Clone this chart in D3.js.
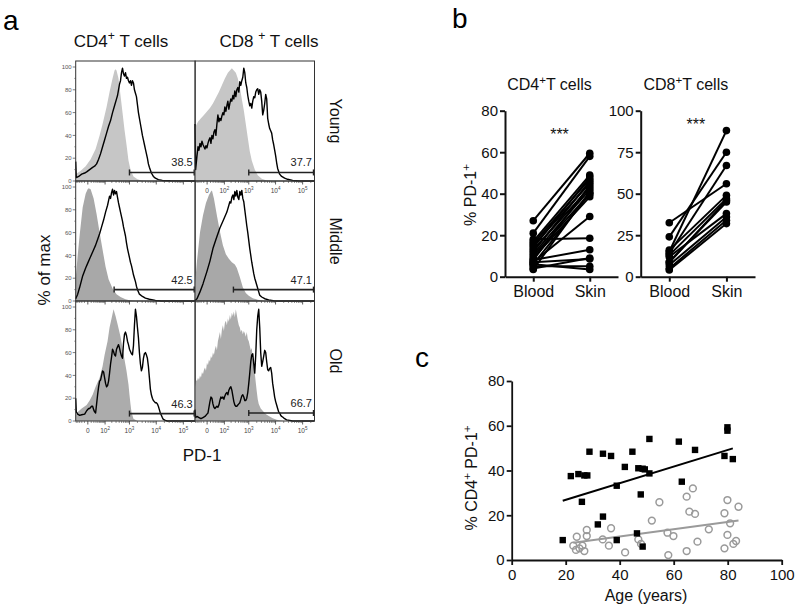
<!DOCTYPE html>
<html><head><meta charset="utf-8">
<script src="https://cdn.jsdelivr.net/npm/d3@7"></script>
<style>body{margin:0;background:#fff}svg{display:block;font-family:"Liberation Sans",Arial,sans-serif}</style>
</head><body><svg id="c" width="800" height="616"></svg>
<script>
// ---------------- DATA ----------------
// Panel a: histograms, x in display channel (0-120), y in % of max
const rowNames = ["Young", "Middle", "Old"];
const gateStart = [[1000, 1000], [250, 250], [1000, 1000]];
const gateLevel = [[7.5, 7.5], [10, 10], [6.5, 7]];
const gateLabels = [["38.5", "37.7"], ["42.5", "47.1"], ["46.3", "66.7"]];
const isoFill = ["#c6c6c6", "#a8a8a8", "#acacac"];
const histYTicks = [0, 20, 40, 60, 80, 100];
const histXTicks = [0, 100, 1000, 10000, 100000];
const histXTickLabels = [["0", ""], ["10", "2"], ["10", "3"], ["10", "4"], ["10", "5"]];

const youngCD4Iso = [[0,6],[5,9],[10,13],[15,19],[20,28],[24,40],[27,50],[31,65],[34,78],[37,90],[39,97],[40,98],[41,97],[43,90],[45,75],[47,60],[49,45],[51,32],[53,18],[55,10],[58,4],[62,1.5],[67,0.3],[72,0],[120,0]];
const youngCD4PD1 = [[0,17],[0.6,3],[3,4],[6,6],[9,7],[11,8],[14,10],[17,12],[19,13],[21,15],[23,19],[25,24],[27,30],[29,36],[31,42],[33,48],[35,53],[37,60],[39,66],[41,72],[42,75],[43,80],[44,85],[45,88],[46,95],[47,99],[48,94],[49,92],[50,95],[51,90],[52,91],[53,88],[54,86],[55,88],[56,84],[57,88],[58,86],[59,80],[60,77],[61,74],[62,67],[63,60],[64,55],[65,50],[66,45],[67,40],[68,36],[69,32],[70,28],[71,24],[72,20],[73,15],[74,12],[76,7],[78,4],[80,2.5],[83,1.2],[87,0.5],[95,0.2],[120,0]];
const youngCD8Iso = [[0,47],[3,52],[6,55],[9,58],[12,61],[15,64],[18,68],[21,73],[24,78],[27,84],[30,90],[33,95],[35,97],[37,99],[39,97],[41,95],[43,90],[45,82],[47,72],[49,62],[51,50],[53,38],[55,26],[57,18],[60,10],[63,5],[67,2],[72,0.5],[78,0],[120,0]];
const youngCD8PD1 = [[0,50],[0.6,10],[2,22],[3,30],[4,27],[5,33],[6,30],[7,35],[8,32],[9,30],[10,28],[11,31],[12,29],[13,33],[14,36],[15,38],[16,33],[17,40],[18,37],[19,43],[20,45],[21,40],[22,50],[23,58],[24,52],[25,55],[26,53],[27,57],[28,60],[29,58],[30,65],[31,61],[32,66],[33,70],[34,63],[35,68],[36,72],[37,70],[38,75],[39,72],[40,79],[41,74],[42,80],[43,82],[44,78],[45,87],[46,84],[47,88],[48,91],[49,99],[50,95],[51,86],[52,82],[53,75],[54,70],[55,66],[56,68],[57,64],[58,70],[59,74],[60,73],[61,78],[62,80],[63,81],[64,76],[65,80],[66,78],[67,70],[68,58],[69,62],[70,68],[71,76],[72,72],[73,55],[74,50],[75,46],[76,44],[77,42],[78,36],[79,32],[80,27],[81,22],[82,16],[83,11],[85,6],[87,4],[90,2.5],[93,1.5],[98,0.5],[105,0],[120,0]];
const middleCD4Iso = [[0,20],[2,40],[4,58],[7,82],[10,94],[12,98],[13,99],[15,98],[18,90],[21,76],[24,60],[27,45],[30,30],[33,19],[37,11],[41,6],[45,3.5],[50,1.5],[55,0.5],[60,0],[120,0]];
const middleCD4PD1 = [[0,2],[2,6],[4,12],[7,22],[10,29],[12,33],[14,37],[16,41],[18,45],[20,49],[22,54],[24,59],[26,65],[28,71],[30,78],[32,84],[33,88],[34,92],[35,90],[36,95],[37,98],[38,93],[39,97],[40,94],[41,96],[42,91],[43,86],[44,82],[45,78],[46,74],[47,70],[48,65],[49,61],[50,57],[51,51],[52,46],[53,42],[54,38],[55,34],[56,31],[57,27],[58,23],[59,20],[60,17],[61,13],[62,10],[64,6],[67,4],[70,2.5],[74,1.5],[80,0.5],[86,0],[120,0]];
const middleCD8Iso = [[0,15],[2,35],[5,60],[8,75],[11,86],[14,93],[16,96],[17,97],[19,90],[22,75],[25,61],[28,49],[31,41],[34,37],[37,34],[40,32],[42,29],[45,21],[48,12],[51,7],[54,4.5],[58,2.5],[63,1],[70,0],[120,0]];
const middleCD8PD1 = [[0,0.5],[2,2],[5,8],[8,15],[12,26],[15,35],[18,46],[21,54],[25,64],[28,70],[32,78],[34,84],[35,87],[36,86],[37,91],[38,93],[39,89],[40,96],[41,92],[42,97],[43,91],[44,89],[45,96],[46,93],[47,97],[48,90],[49,87],[50,80],[51,73],[52,66],[53,60],[54,53],[55,46],[56,40],[57,34],[58,29],[59,24],[60,20],[62,14],[64,8],[65,5],[67,3.5],[70,2],[74,1],[80,0],[120,0]];
const oldCD4Iso = [[0,5],[2,8],[6,11],[11,14],[14,18],[17,23],[20,30],[24,38],[27,48],[29,58],[32,70],[34,82],[36,90],[38,98],[40,92],[42,85],[45,74],[47,64],[49,54],[51,44],[53,32],[54,23],[55,15],[56,8],[58,2],[62,0],[120,0]];
const oldCD4PD1 = [[0,20],[0.6,8],[2,6],[4,5],[6,5.5],[9,6],[11,9],[13,11],[14,11],[16,13],[17,13],[18,10],[19,8],[20,7],[21,15],[22,23],[23,30],[24,35],[25,36],[26,40],[27,44],[28,43],[29,38],[30,33],[31,30],[32,31],[33,35],[34,42],[35,50],[36,56],[37,63],[38,61],[39,58],[40,57],[41,63],[42,65],[43,67],[44,64],[45,60],[46,57],[47,55],[48,68],[49,76],[50,78],[51,75],[52,70],[53,67],[54,63],[55,61],[56,59],[57,58],[58,66],[59,84],[60,98],[61,92],[62,82],[63,73],[64,60],[65,50],[66,44],[67,47],[68,55],[69,59],[70,60],[71,58],[72,55],[73,48],[74,38],[75,28],[76,23],[77,20],[78,18],[79,17],[80,16],[81,16],[82,15],[83,13],[84,10],[85,7],[86,5],[87,3],[88,1.5],[90,0.5],[92,0],[120,0]];
const oldCD8Iso = [[0,30],[1,36],[2,35],[3,38],[4,36],[5,40],[6,38],[7,43],[8,41],[9,45],[10,47],[11,44],[12,51],[13,49],[14,54],[15,52],[16,57],[17,55],[18,60],[19,58],[20,63],[21,66],[22,62],[23,70],[24,74],[25,78],[26,72],[27,80],[28,84],[29,79],[30,86],[31,88],[32,84],[33,90],[34,87],[35,93],[36,89],[37,95],[38,92],[39,96],[40,91],[41,98],[42,93],[43,88],[44,84],[45,82],[46,78],[47,80],[48,76],[49,79],[50,77],[51,74],[52,78],[53,72],[54,70],[55,66],[56,62],[57,64],[58,55],[59,48],[60,42],[61,34],[62,26],[63,19],[64,15],[66,11],[68,9],[70,7],[72,5.5],[75,4],[78,2.5],[82,1],[86,0.5],[90,0],[120,0]];
const oldCD8PD1 = [[0,10],[0.6,3],[2,4],[4,3],[6,2],[8,3],[10,4],[12,6],[13,7],[14,12],[15,17],[16,21],[17,20],[18,15],[19,12],[20,11],[21,12],[22,13],[23,12],[24,14],[25,18],[26,21],[27,20],[28,21],[29,19],[30,22],[31,24],[32,25],[33,23],[34,27],[35,29],[36,30],[37,27],[38,22],[39,17],[40,14],[41,13],[42,13],[43,14],[44,15],[45,16],[46,19],[47,22],[48,23],[49,21],[50,18],[51,18],[52,20],[53,25],[54,33],[55,42],[56,52],[57,58],[58,59],[59,50],[60,42],[61,58],[62,80],[63,92],[64,98],[65,82],[66,60],[67,48],[68,52],[69,57],[70,62],[71,60],[72,52],[73,45],[74,44],[75,46],[76,47],[77,42],[78,33],[79,27],[80,21],[81,17],[82,14],[83,11],[84,8],[85,7],[86,5],[87,4],[88,3.5],[90,2],[92,1],[95,0.5],[98,0],[120,0]];

// Panel b: paired blood vs skin (% PD-1+)
const pairCategories = ["Blood", "Skin"];
const cd4Blood = [27, 21, 17, 16, 15, 14, 13, 12, 11, 10, 9, 8, 7, 6, 18, 8, 7, 5, 6, 4, 3.5];
const cd4Skin  = [59.5, 58, 49, 47, 45, 48, 43, 46, 42, 40, 38.5, 44, 29, 40, 18.5, 13, 8.5, 5, 3.5, 9, 41];
const cd4Ticks = [0, 20, 40, 60, 80];
const cd8Blood = [15, 24, 14, 32.5, 16, 13, 8.5, 12, 7, 5, 4, 9];
const cd8Skin  = [88, 75, 67, 56, 49, 47, 46, 38, 36, 34, 32, 45];
const cd8Ticks = [0, 25, 50, 75, 100];

// Panel c: age vs % CD4+PD-1+
const skinAge = [18.9,21.9,24.7,26,26.9,28,28.8,31.9,33.8,33.8,36.8,38.9,38.9,41.9,44.7,46.9,47.8,48.5,49.3,46.4,48.5,51,51,61.9,63,67.9,78.8,79.9,79.9,81.9];
const skinPct = [8.9,37.5,38.4,26,37.8,37.8,48.4,15.9,19.4,47.5,46.5,33.2,8.9,41.6,48.4,41,29.3,40.8,40.5,11.9,6,38.7,54.1,52.9,35,49.2,46.5,59.3,57.8,45.1];
const bloodAge = [24.1,22.8,23.8,25.1,26.2,26.9,27.8,27.8,33.7,36,36.8,42,46.9,47.9,51.9,54.7,57.7,58,59.9,64.8,64.8,65.8,67.1,67.9,68.8,73,78.8,78.8,79.9,79.9,80.9,82.1,83.1,84];
const bloodPct = [10.4,6.4,4.5,5.2,6.4,4,13.4,10.7,9.2,6.4,14.2,3.4,9.2,7.2,17.6,25.8,12.2,2.2,10.7,4,28.3,21.6,32,20.6,8.2,13.7,20.9,5.2,26.8,11.2,16.4,7.2,8.5,23.8];
const skinFit = [19.5, 0.371];   // intercept, slope
const bloodFit = [4.0, 0.162];
const ageTicks = [0, 20, 40, 60, 80, 100];
const pctTicks = [0, 20, 40, 60, 80];

// ---------------- DRAW ----------------
const svg = d3.select("#c");
const FONT = '"Liberation Sans",Arial,sans-serif';

function rich(sel, parts, size) {
  const t = sel.append("text").attr("font-size", size).attr("fill", "#111");
  let shifted = false;
  parts.forEach(p => {
    const sp = t.append("tspan").text(p[0]);
    if (p[1]) { sp.attr("font-size", size * 0.72).attr("dy", -size * 0.4); shifted = true; }
    else if (shifted) { sp.attr("dy", size * 0.4); shifted = false; }
  });
  return t;
}

// panel letters
svg.append("text").attr("x", 3).attr("y", 30).attr("font-size", 28).text("a");
svg.append("text").attr("x", 452).attr("y", 28).attr("font-size", 28).text("b");
svg.append("text").attr("x", 415).attr("y", 367).attr("font-size", 28).text("c");

// ---- panel a ----
const colX = [75.7, 195], colW = 119.5, rowY = [61, 181, 301], rowH = 120;
const colTitles = [[["CD4"], ["+", 1], [" T cells"]], [["CD8 "], ["+", 1], [" T cells"]]];
const colTitleX = [121, 269];
colTitles.forEach((parts, i) => {
  rich(svg, parts, 17).attr("x", colTitleX[i]).attr("y", 46.5).attr("text-anchor", "middle");
});

const hists = [[[youngCD4Iso, youngCD4PD1], [youngCD8Iso, youngCD8PD1]],
               [[middleCD4Iso, middleCD4PD1], [middleCD8Iso, middleCD8PD1]],
               [[oldCD4Iso, oldCD4PD1], [oldCD8Iso, oldCD8PD1]]];
const xAx = d3.scaleSymlog().constant(30).domain([-54, 274000]).range([0, colW]);
const ch = d3.scaleLinear().domain([0, 120]).range([0, colW]);
const minorTicks = [];
[-50, -40, -30, -20, -10, 10, 20, 30, 40, 50, 60, 70, 80, 90].forEach(v => minorTicks.push(v));
[100, 1000, 10000, 100000].forEach(d => { for (let k = 2; k <= 9; k++) if (d * k < 274000) minorTicks.push(d * k); });

rowNames.forEach((rn, r) => {
  [0, 1].forEach(c => {
    const g = svg.append("g").attr("transform", `translate(${colX[c]},${rowY[r]})`);
    const y = d3.scaleLinear().domain([0, 100]).range([rowH, rowH - 114]);
    const [iso, pd1] = hists[r][c];
    g.append("path").datum(iso).attr("fill", isoFill[r])
      .attr("d", d3.area().x(d => ch(d[0])).y0(rowH).y1(d => y(d[1])));
    g.append("path").datum(pd1).attr("fill", "none").attr("stroke", "#000").attr("stroke-width", 1.4)
      .attr("stroke-linejoin", "round")
      .attr("d", d3.line().x(d => ch(d[0])).y(d => y(d[1])));
    // gate
    const gx0 = xAx(gateStart[r][c]), gx1 = colW - 1, gy = y(gateLevel[r][c]);
    g.append("line").attr("x1", gx0).attr("x2", gx1).attr("y1", gy).attr("y2", gy).attr("stroke", "#222").attr("stroke-width", 1.6);
    [gx0, gx1].forEach(xx => g.append("line").attr("x1", xx).attr("x2", xx).attr("y1", gy - 3).attr("y2", gy + 3).attr("stroke", "#222").attr("stroke-width", 1.4));
    g.append("text").attr("x", colW - 2.5).attr("y", gy - 6).attr("text-anchor", "end").attr("font-size", 11).attr("fill", "#222").text(gateLabels[r][c]);
    // frame
    g.append("rect").attr("width", colW).attr("height", rowH).attr("fill", "none").attr("stroke", "#333").attr("stroke-width", 1);
    // x ticks
    minorTicks.forEach(v => g.append("line").attr("x1", xAx(v)).attr("x2", xAx(v)).attr("y1", rowH).attr("y2", rowH + 2).attr("stroke", "#444").attr("stroke-width", 0.6));
    histXTicks.forEach(v => g.append("line").attr("x1", xAx(v)).attr("x2", xAx(v)).attr("y1", rowH).attr("y2", rowH + 3.5).attr("stroke", "#333").attr("stroke-width", 0.8));
    if (r === 2 || (r === 0 && c === 1)) {
      histXTicks.forEach((v, i) => {
        const t = g.append("text").attr("x", xAx(v)).attr("y", rowH + 12).attr("text-anchor", "middle").attr("font-size", 6.5).attr("fill", "#444");
        t.append("tspan").text(histXTickLabels[i][0]);
        if (histXTickLabels[i][1]) t.append("tspan").attr("font-size", 4.5).attr("dy", -3).text(histXTickLabels[i][1]);
      });
    }
    // y ticks
    if (c === 0) {
      histYTicks.forEach(v => {
        g.append("line").attr("x1", -3).attr("x2", 0).attr("y1", y(v)).attr("y2", y(v)).attr("stroke", "#444").attr("stroke-width", 0.7);
        g.append("text").attr("x", -4).attr("y", y(v) + 2.2).attr("text-anchor", "end").attr("font-size", 6).attr("fill", "#555").text(v);
      });
      d3.range(10, 100, 20).forEach(v => g.append("line").attr("x1", -1.5).attr("x2", 0).attr("y1", y(v)).attr("y2", y(v)).attr("stroke", "#444").attr("stroke-width", 0.5));
    }
  });
  svg.append("text").attr("transform", `translate(330,${rowY[r] + rowH / 2}) rotate(90)`)
    .attr("text-anchor", "middle").attr("font-size", 16).attr("fill", "#111").text(rn);
});
svg.append("text").attr("transform", "translate(50,270) rotate(-90)").attr("text-anchor", "middle").attr("font-size", 17).attr("fill", "#111").text("% of max");
svg.append("text").attr("x", 202).attr("y", 461).attr("text-anchor", "middle").attr("font-size", 17).attr("fill", "#111").text("PD-1");

// ---- panel b ----
function paired(blood, skin, ticks, x0, x1, titleParts, starY) {
  const y = d3.scaleLinear().domain([0, ticks[ticks.length - 1]]).range([276.7, 110.7]);
  const x = d3.scalePoint().domain(pairCategories).range([x0, x1]).padding(0.5);
  const g = svg.append("g");
  const ay = g.append("g").attr("transform", `translate(${x0},0)`).call(d3.axisLeft(y).tickValues(ticks).tickSize(5).tickSizeOuter(0).tickPadding(2));
  const ax = g.append("g").attr("transform", "translate(0,276.7)").call(d3.axisBottom(x).tickSize(5).tickSizeOuter(0).tickPadding(4));
  [ay, ax].forEach(a => {
    a.selectAll("path,line").attr("stroke", "#111").attr("stroke-width", 2);
    a.selectAll("text").attr("font-family", FONT).attr("fill", "#111");
  });
  ay.selectAll("text").attr("font-size", 15);
  ax.selectAll("text").attr("font-size", 16);
  blood.forEach((b, i) => {
    g.append("line").attr("x1", x("Blood")).attr("y1", y(b)).attr("x2", x("Skin")).attr("y2", y(skin[i])).attr("stroke", "#000").attr("stroke-width", 2);
  });
  blood.forEach((b, i) => {
    g.append("circle").attr("cx", x("Blood")).attr("cy", y(b)).attr("r", 3.8).attr("fill", "#000");
    g.append("circle").attr("cx", x("Skin")).attr("cy", y(skin[i])).attr("r", 3.8).attr("fill", "#000");
  });
  rich(svg, titleParts, 16).attr("x", (x0 + x1) / 2 - 12).attr("y", 90).attr("text-anchor", "middle");
  svg.append("text").attr("x", (x("Blood") + x("Skin")) / 2 - 2).attr("y", starY + 8).attr("text-anchor", "middle").attr("font-size", 16).attr("fill", "#111").text("***");
}
paired(cd4Blood, cd4Skin, cd4Ticks, 505, 618, [["CD4"], ["+", 1], ["T cells"]], 131.7);
paired(cd8Blood, cd8Skin, cd8Ticks, 640.7, 755, [["CD8"], ["+", 1], ["T cells"]], 121.7);
rich(svg, [["% PD-1"], ["+", 1]], 16).attr("transform", "translate(476,195) rotate(-90)").attr("text-anchor", "middle");

// ---- panel c ----
{
  const x = d3.scaleLinear().domain([0, 100]).range([511.7, 781.7]);
  const y = d3.scaleLinear().domain([0, 80]).range([560, 381]);
  const g = svg.append("g");
  const ax = g.append("g").attr("transform", "translate(0,560)").call(d3.axisBottom(x).tickValues(ageTicks).tickSize(5).tickSizeOuter(0).tickPadding(4));
  const ay = g.append("g").attr("transform", "translate(511.7,0)").call(d3.axisLeft(y).tickValues(pctTicks).tickSize(5).tickSizeOuter(0).tickPadding(2));
  [ax, ay].forEach(a => {
    a.selectAll("path,line").attr("stroke", "#111").attr("stroke-width", 1.8);
    a.selectAll("text").attr("font-family", FONT).attr("font-size", 15).attr("fill", "#111");
  });
  const fitLine = (fit, ages, col) => {
    const [a0, a1] = d3.extent(ages);
    g.append("line").attr("x1", x(a0)).attr("y1", y(fit[0] + fit[1] * a0)).attr("x2", x(a1)).attr("y2", y(fit[0] + fit[1] * a1))
      .attr("stroke", col).attr("stroke-width", 2);
  };
  bloodAge.forEach((a, i) => g.append("circle").attr("cx", x(a)).attr("cy", y(bloodPct[i])).attr("r", 3.4).attr("fill", "none").attr("stroke", "#9a9a9a").attr("stroke-width", 1.5));
  fitLine(bloodFit, bloodAge, "#9a9a9a");
  skinAge.forEach((a, i) => g.append("rect").attr("x", x(a) - 3.2).attr("y", y(skinPct[i]) - 3.2).attr("width", 6.4).attr("height", 6.4).attr("fill", "#000"));
  fitLine(skinFit, skinAge, "#000");
  svg.append("text").attr("x", 646).attr("y", 601).attr("text-anchor", "middle").attr("font-size", 16).attr("fill", "#111").text("Age (years)");
  rich(svg, [["% CD4"], ["+", 1], [" PD-1"], ["+", 1]], 16).attr("transform", "translate(477,478) rotate(-90)").attr("text-anchor", "middle");
}
</script></body></html>
